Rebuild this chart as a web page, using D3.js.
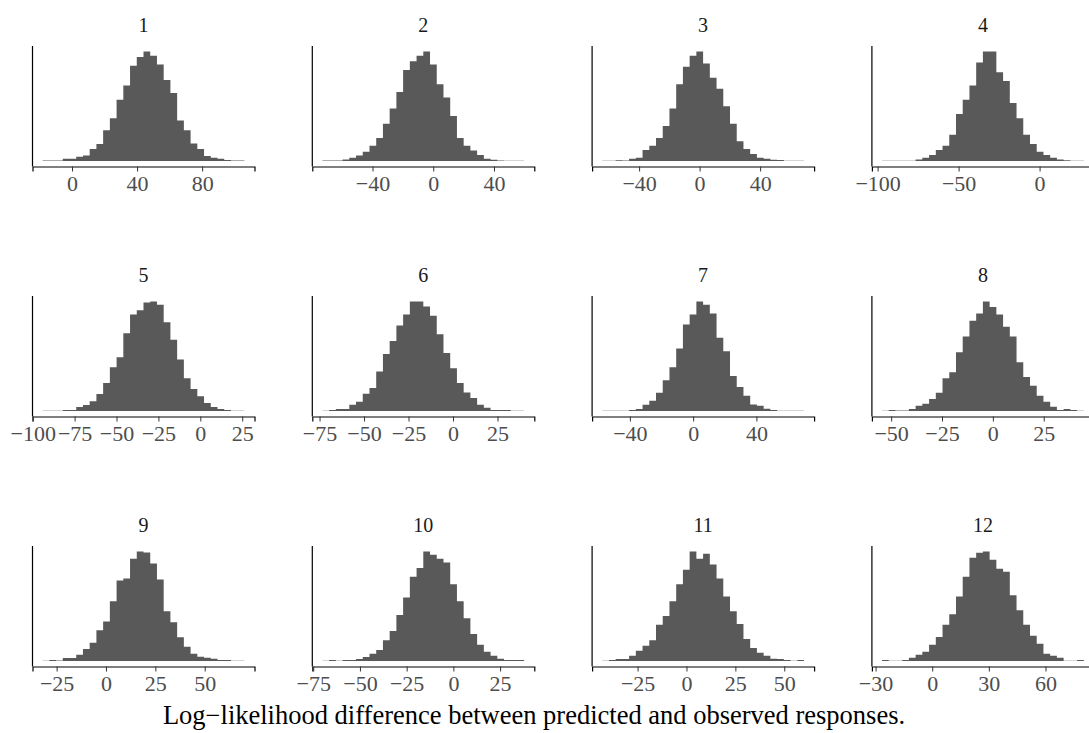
<!DOCTYPE html>
<html>
<head>
<meta charset="utf-8">
<script src="https://cdn.jsdelivr.net/npm/d3@7"></script>
<style>
  body { margin: 0; background: #fff; }
  svg { display: block; }
</style>
</head>
<body>
<script>
// -------------------- DATA --------------------
var titles = ["1", "2", "3", "4", "5", "6", "7", "8", "9", "10", "11", "12"];

// left edge of first bin / right edge of last bin (30 bins each)
var binLo = [-18.1, -73.0, -64.4, -97.3, -94.1, -73.4, -57.5, -54.5, -32.1, -70.1, -43.1, -26.6];
var binHi = [106.0, 59.9, 69.0, 27.3, 26.3, 40.0, 70.1, 44.7, 70.1, 37.9, 60.1, 80.3];

// bin heights (relative counts)
var counts = [
  [0.5,0.5,0.5,2,2,4,5,11,15.5,28,39,56,69,87,95,100,96,88,74,62,37,28,16,11,4.5,3,2,1,0.5,0.5],
  [0.5,0.5,0.5,1.5,3,5,8.5,14,21,34,48,63,83,91,96,100,88,70,58,41,21,14,9.5,5.5,2,1.2,0.4,0.3,0.3,0.3],
  [0.3,0.3,0.7,0.4,2,3,10,14,21,32,48,70,86,96,100,89,76,66,50,34,18,11,6.5,3,2,1.2,1,0.3,0.3,0.3],
  [0.3,0.3,0.3,0.3,0.3,1.5,3,5.5,10,14,24,43,56,69,90,100,100,81,73,53,39,24,15.5,8.5,5.5,3,1.5,0.6,0.3,0.2],
  [0.3,0.3,0.3,1,1,3.6,5.5,9,15.5,25.5,40,49,71,88,92,99,100,97,81,65,47,30,20,13.6,7.3,3.6,1.8,1,0.3,0.3],
  [0.3,1,1.8,1.8,5.7,8.4,15.7,21,36,52,64,78,88,100,100,95.5,87,70,53,39,25.6,17,12,5.7,3,1,1,1,0.3,0.3],
  [0.3,0.3,0.3,0.3,1,1.8,5.7,9.3,16.6,28,40,57,79,88,100,97,89,67,54.5,32,22,14,6,4.8,2,1,0.3,0.3,0.3,0.3],
  [0.3,1,0.5,0.5,1.8,4.8,6.6,11,16.6,30,35.5,53.6,68,82.5,89,100,95,88,77,68,44.6,31,23,14,8.4,4,1,1.8,1,0.3],
  [0.3,1,0.5,2.7,2.7,5.7,11,16.6,28,36,54.5,73.5,75.3,93.4,100,99,89,74.4,45.5,35.5,21.7,13,6.6,4,3,2,1,1,0.3,0.3],
  [0.3,1,0.3,1,1,1.8,3.6,6.6,10,19,27.4,42,58,77,85,100,97,93.4,90,70,54.5,39,24.7,14.8,8.4,4.8,2,1,1,1],
  [0.3,1,1.8,1.8,4.8,9.3,14,19,33,41,54.5,70,83.4,100,93.4,98,88,75.3,59,45.5,33.7,20,12,7.5,4.8,2,1.8,1,0.3,1],
  [1,0.3,0.3,1,3,5.7,8.4,14.8,22,33,42.8,59,77,94.3,98.8,100,92.5,84.3,81.6,60,46.4,33,23,15.7,6.6,4.8,3,0.3,0.3,1]
];

var tickVals = [
  [0, 40, 80],
  [-40, 0, 40],
  [-40, 0, 40],
  [-100, -50, 0],
  [-100, -75, -50, -25, 0, 25],
  [-75, -50, -25, 0, 25],
  [-40, 0, 40],
  [-50, -25, 0, 25],
  [-25, 0, 25, 50],
  [-75, -50, -25, 0, 25],
  [-25, 0, 25, 50],
  [-30, 0, 30, 60]
];

var xTitle = "Log\u2212likelihood difference between predicted and observed responses.";

// -------------------- LAYOUT --------------------
var w = 1089, h = 733;
var panelW = 222, panelH = 120.5;
var colStep = 279.8, rowStep = 250;
var left0 = 32.5, top0 = 46;
var font = "'Liberation Serif', 'Times New Roman', serif";

var svg = d3.select("body").append("svg")
  .attr("width", w)
  .attr("height", h);

svg.append("rect").attr("width", w).attr("height", h).attr("fill", "#fff");

titles.forEach(function(t, i) {
  var col = i % 4, row = Math.floor(i / 4);
  var px = left0 + col * colStep;
  var py = top0 + row * rowStep;

  var lo = binLo[i], hi = binHi[i], span = hi - lo;
  var x = d3.scaleLinear()
    .domain([lo - 0.05 * span, hi + 0.05 * span])
    .range([0, panelW]);

  var maxC = d3.max(counts[i]);
  var y = d3.scaleLinear()
    .domain([-0.05 * maxC, 1.05 * maxC])
    .range([panelH, 0]);

  var bw = span / counts[i].length;
  var bins = counts[i].map(function(c, k) {
    return { x0: lo + k * bw, c: c };
  });
  // closing point for the step outline
  bins.push({ x0: hi, c: counts[i][counts[i].length - 1] });

  var g = svg.append("g").attr("transform", "translate(" + px + "," + py + ")");

  // histogram drawn as one stepped area (no seams between bins)
  var area = d3.area()
    .curve(d3.curveStepAfter)
    .x(function(d) { return x(d.x0); })
    .y0(y(0))
    .y1(function(d) { return y(d.c); });

  g.append("path")
    .datum(bins)
    .attr("d", area)
    .attr("fill", "#595959");

  // x axis
  var ax = g.append("g")
    .attr("transform", "translate(0," + panelH + ")")
    .call(d3.axisBottom(x).tickValues(tickVals[i]).tickSizeOuter(0).tickSize(5).tickPadding(4));
  ax.select(".domain").attr("stroke", "#000").attr("stroke-width", 1.2);
  ax.selectAll(".tick line").attr("stroke", "#333").attr("stroke-width", 1);
  ax.selectAll(".tick text")
    .attr("fill", "#4d4d4d")
    .attr("font-family", font)
    .attr("font-size", "22px");

  // y axis line (no ticks)
  g.append("line")
    .attr("x1", 0).attr("x2", 0)
    .attr("y1", 0).attr("y2", panelH)
    .attr("stroke", "#000")
    .attr("stroke-width", 1.2);

  // strip title
  g.append("text")
    .attr("x", panelW / 2)
    .attr("y", -14)
    .attr("text-anchor", "middle")
    .attr("font-family", font)
    .attr("font-size", "20px")
    .attr("fill", "#1a1a1a")
    .text(t);
});

// overall x title
svg.append("text")
  .attr("x", 534)
  .attr("y", 724)
  .attr("text-anchor", "middle")
  .attr("font-family", font)
  .attr("font-size", "26.5px")
  .attr("fill", "#000")
  .text(xTitle);
</script>
</body>
</html>
